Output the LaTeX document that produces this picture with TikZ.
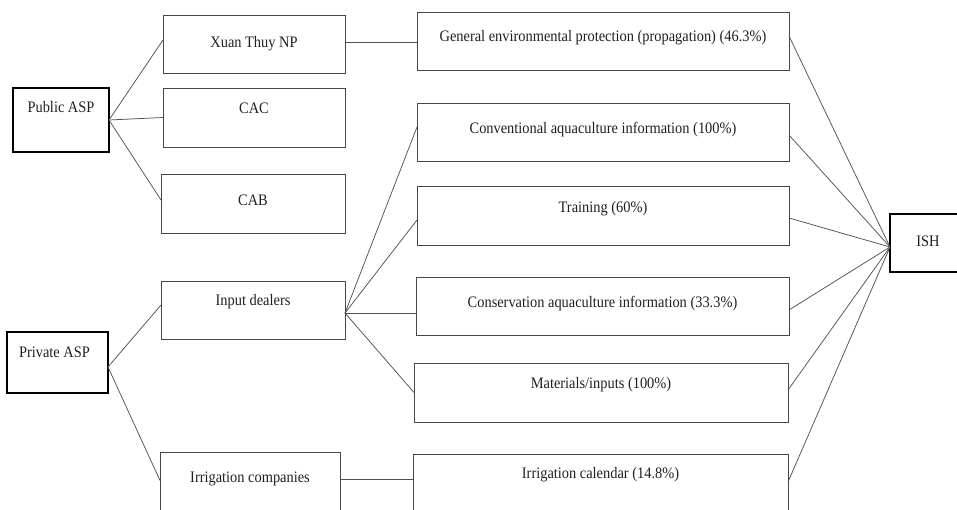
\documentclass[tikz,border=0pt]{standalone}
\usepackage{fontspec}
\setmainfont{Liberation Serif}[FakeStretch=0.9]
\usetikzlibrary{calc}

% Box whose top-left corner is (#3,#4) and bottom-right corner (#5,#6),
% with its text line centred at height #7 (all in px, y downwards).
\newcommand\cellbox[8]{%
  \pgfmathsetmacro\cellw{#5-#3}%
  \pgfmathsetmacro\cellh{#6-#4}%
  \pgfmathsetmacro\cellx{(#3+#5)/2}%
  \pgfmathsetmacro\celly{(#4+#6)/2}%
  \pgfmathsetmacro\cellth{#7-#4+5}%
  \pgfmathsetmacro\celltd{#6-#7-5}%
  \node[#1, minimum width=\cellw pt, minimum height=\cellh pt,
        text height=\cellth pt, text depth=\celltd pt] (#2) at (\cellx,\celly) {#8};
}

\tikzset{
  cell/.style={draw=black!72, line width=0.9pt, inner sep=0pt, outer sep=0pt,
               font=\fontsize{16}{18}\selectfont, text=black!88},
  actor/.style={cell, draw=black, line width=1.6pt},
  link/.style={draw=black!68, line width=0.75pt},
}

\begin{document}
\begin{tikzpicture}[x=1pt, y=-1pt]
\useasboundingbox (0,0) rectangle (957,509);

% service providers
\cellbox{actor}{pub}{13}{88}{109}{152}{107}{Public ASP}
\cellbox{actor}{priv}{7}{332}{108}{393}{352}{Private ASP\hspace*{6pt}}

% intermediaries
\cellbox{cell}{xuan}{163}{15}{345}{73}{42}{Xuan Thuy NP}
\cellbox{cell}{cac}{163}{88}{345}{147}{108}{CAC}
\cellbox{cell}{cab}{161}{174}{345}{233}{200}{CAB}
\cellbox{cell}{dealer}{161}{281}{345}{339}{300}{Input dealers}
\cellbox{cell}{irrco}{160}{452}{340}{525}{477}{Irrigation companies}

% services
\cellbox{cell}{gen}{417}{12}{789}{70}{36}{General environmental protection (propagation) (46.3\%)}
\cellbox{cell}{conv}{417}{103}{789}{161}{128}{Conventional aquaculture information (100\%)}
\cellbox{cell}{train}{417}{186}{789}{245}{207}{Training (60\%)}
\cellbox{cell}{cons}{416}{277}{789}{335}{302}{Conservation aquaculture information (33.3\%)}
\cellbox{cell}{mat}{414}{363}{788}{422}{383}{Materials/inputs (100\%)}
\cellbox{cell}{cal}{413}{454}{788}{525}{473}{Irrigation calendar (14.8\%)}

% recipient
\cellbox{actor}{ish}{890}{214}{966}{272}{241}{ISH}

% providers to intermediaries
\draw[link] (pub.east) -- ([yshift=4pt]xuan.west);
\draw[link] (pub.east) -- (cac.west);
\draw[link] (pub.east) -- ([yshift=3.5pt]cab.west);
\draw[link] ([yshift=-4.5pt]priv.east) -- ([yshift=5pt]dealer.west);
\draw[link] ([yshift=-4.5pt]priv.east) -- ([yshift=8pt]irrco.west);

% intermediaries to services
\draw[link] ([yshift=2pt]xuan.east) -- ([yshift=2pt]xuan.east -| gen.west);
\draw[link] ([yshift=-3pt]dealer.east) -- ([yshift=5pt]conv.west);
\draw[link] ([yshift=-3pt]dealer.east) -- ([yshift=-4.5pt]train.west);
\draw[link] ([yshift=-3pt]dealer.east) -- ([yshift=-7pt]cons.west);
\draw[link] ([yshift=-3pt]dealer.east) -- (mat.west);
\draw[link] ([yshift=9.5pt]irrco.east) -- ([yshift=10.5pt]cal.west);

% services to recipient
\coordinate (hub) at ([yshift=-4pt]ish.west);
\draw[link] ([yshift=5pt]gen.east) -- (hub);
\draw[link] ([yshift=-3pt]conv.east) -- (hub);
\draw[link] ([yshift=-2.5pt]train.east) -- (hub);
\draw[link] ([yshift=-4pt]cons.east) -- (hub);
\draw[link] ([yshift=2.5pt]mat.east) -- (hub);
\draw[link] ([yshift=7.5pt]cal.east) -- (hub);
\end{tikzpicture}
\end{document}
